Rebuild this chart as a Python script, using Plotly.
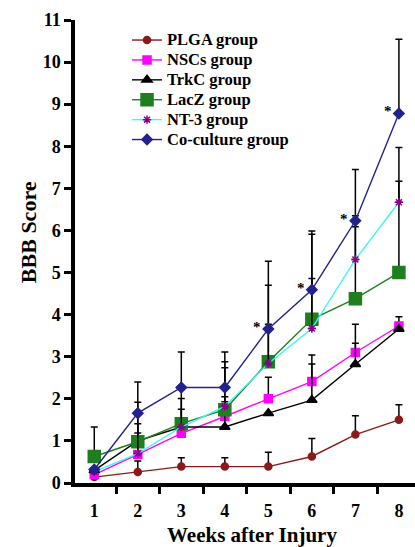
import plotly.graph_objects as go

weeks = [1, 2, 3, 4, 5, 6, 7, 8]

groups = ["PLGA group", "NSCs group", "TrkC group", "LacZ group", "NT-3 group", "Co-culture group"]

plga_mean = [0.14, 0.26, 0.39, 0.39, 0.39, 0.63, 1.15, 1.50]
plga_sd = [0.0, 0.26, 0.21, 0.21, 0.34, 0.43, 0.45, 0.36]

nscs_mean = [0.20, 0.68, 1.18, 1.58, 2.00, 2.41, 3.10, 3.73]
nscs_sd = [0.0, 0.51, 0.57, 0.47, 0.51, 0.63, 0.67, 0.22]

trkc_mean = [0.30, 1.00, 1.33, 1.33, 1.66, 1.97, 2.82, 3.66]
trkc_sd = [0.0, 0.63, 0.0, 0.60, 0.0, 0.86, 0.50, 0.0]

lacz_mean = [0.63, 0.98, 1.41, 1.74, 2.88, 3.89, 4.38, 5.00]
lacz_sd = [0.70, 0.94, 0.89, 1.14, 1.82, 2.02, 1.97, 2.17]

nt3_mean = [0.27, 0.70, 1.33, 1.82, 2.84, 3.67, 5.31, 6.67]
nt3_sd = [0.0, 0.71, 0.68, 0.92, 0.93, 1.19, 0.78, 1.30]

cocul_mean = [0.32, 1.66, 2.27, 2.27, 3.66, 4.59, 6.23, 8.78]
cocul_sd = [0.0, 0.74, 0.84, 0.84, 1.61, 1.40, 1.22, 1.76]

star_weeks = [5, 6, 7, 8]

y_ticks = list(range(0, 12))
x_ticks = weeks
x_minor_ticks = [0.5 + w for w in weeks]

styles = [
    dict(color="#8B1A1A", symbol="circle", size=7, mline="#8B1A1A"),
    dict(color="#FF00FF", symbol="square", size=8, mline="#FF00FF"),
    dict(color="#000000", symbol="triangle-up", size=9, mline="#000000"),
    dict(color="#1F7F1F", symbol="square", size=12, mline="#1F7F1F"),
    dict(color="#3FF5F5", symbol="asterisk-open", size=7, mline="#8B008B"),
    dict(color="#22228C", symbol="diamond", size=8, mline="#22228C"),
]
means = [plga_mean, nscs_mean, trkc_mean, lacz_mean, nt3_mean, cocul_mean]
sds = [plga_sd, nscs_sd, trkc_sd, lacz_sd, nt3_sd, cocul_sd]

FONT = "Liberation Serif"

fig = go.Figure()
for name, m, s, st in zip(groups, means, sds, styles):
    fig.add_trace(go.Scatter(
        x=weeks, y=m, name=f'<span style="font-size:16.5px">{name}</span>',
        mode="lines+markers",
        line=dict(color=st["color"], width=1.4),
        marker=dict(symbol=st["symbol"], size=st["size"], color=st["mline"],
                    line=dict(color=st["mline"], width=1.5)),
        error_y=dict(type="data", symmetric=False, array=s,
                     arrayminus=[0] * len(s), color="black",
                     thickness=1.5, width=3.5, visible=True),
    ))

for w in star_weeks:
    fig.add_annotation(x=w, y=cocul_mean[weeks.index(w)], text="*",
                       showarrow=False, xshift=-11, yshift=2,
                       font=dict(family=FONT, size=15, color="black", weight="bold"))

fig.add_annotation(text="Weeks after Injury", xref="paper", yref="paper",
                   x=0.52, y=-0.112, xanchor="center", yanchor="middle",
                   showarrow=False,
                   font=dict(family=FONT, size=21, color="black", weight="bold"))
fig.add_annotation(text="BBB Score", xref="paper", yref="paper",
                   x=-0.138, y=0.542, xanchor="center", yanchor="middle",
                   showarrow=False, textangle=-90,
                   font=dict(family=FONT, size=22, color="black", weight="bold"))

fig.update_layout(
    width=415, height=547,
    margin=dict(l=75, r=0, t=20, b=64),
    paper_bgcolor="white", plot_bgcolor="white",
    showlegend=True,
    legend=dict(x=0.153, y=0.989, xanchor="left", yanchor="top",
                bgcolor="rgba(0,0,0,0)", borderwidth=0,
                font=dict(family=FONT, size=13, color="black", weight="bold"),
                tracegroupgap=0),
    font=dict(family=FONT, color="black"),
)
fig.update_xaxes(
    range=[0.557, 8.37], tickvals=x_ticks,
    ticktext=[str(w) for w in x_ticks],
    ticks="", showgrid=False, zeroline=False, ticklabelstandoff=9,
    showline=True, linecolor="black", linewidth=3.5,
    tickfont=dict(family=FONT, size=18, color="black", weight="bold"),
    minor=dict(tickvals=x_minor_ticks, ticks="outside", ticklen=7,
               tickwidth=3, tickcolor="black", showgrid=False),
)
fig.update_yaxes(
    range=[0, 11], tickvals=y_ticks,
    ticktext=[str(v) for v in y_ticks],
    ticks="outside", ticklen=7, tickwidth=3, tickcolor="black",
    showgrid=False, zeroline=False,
    showline=True, linecolor="black", linewidth=3.5,
    tickfont=dict(family=FONT, size=18, color="black", weight="bold"),
)

fig.write_html("out.html", config={"displayModeBar": False},
               post_script="document.body.style.margin='0';")
